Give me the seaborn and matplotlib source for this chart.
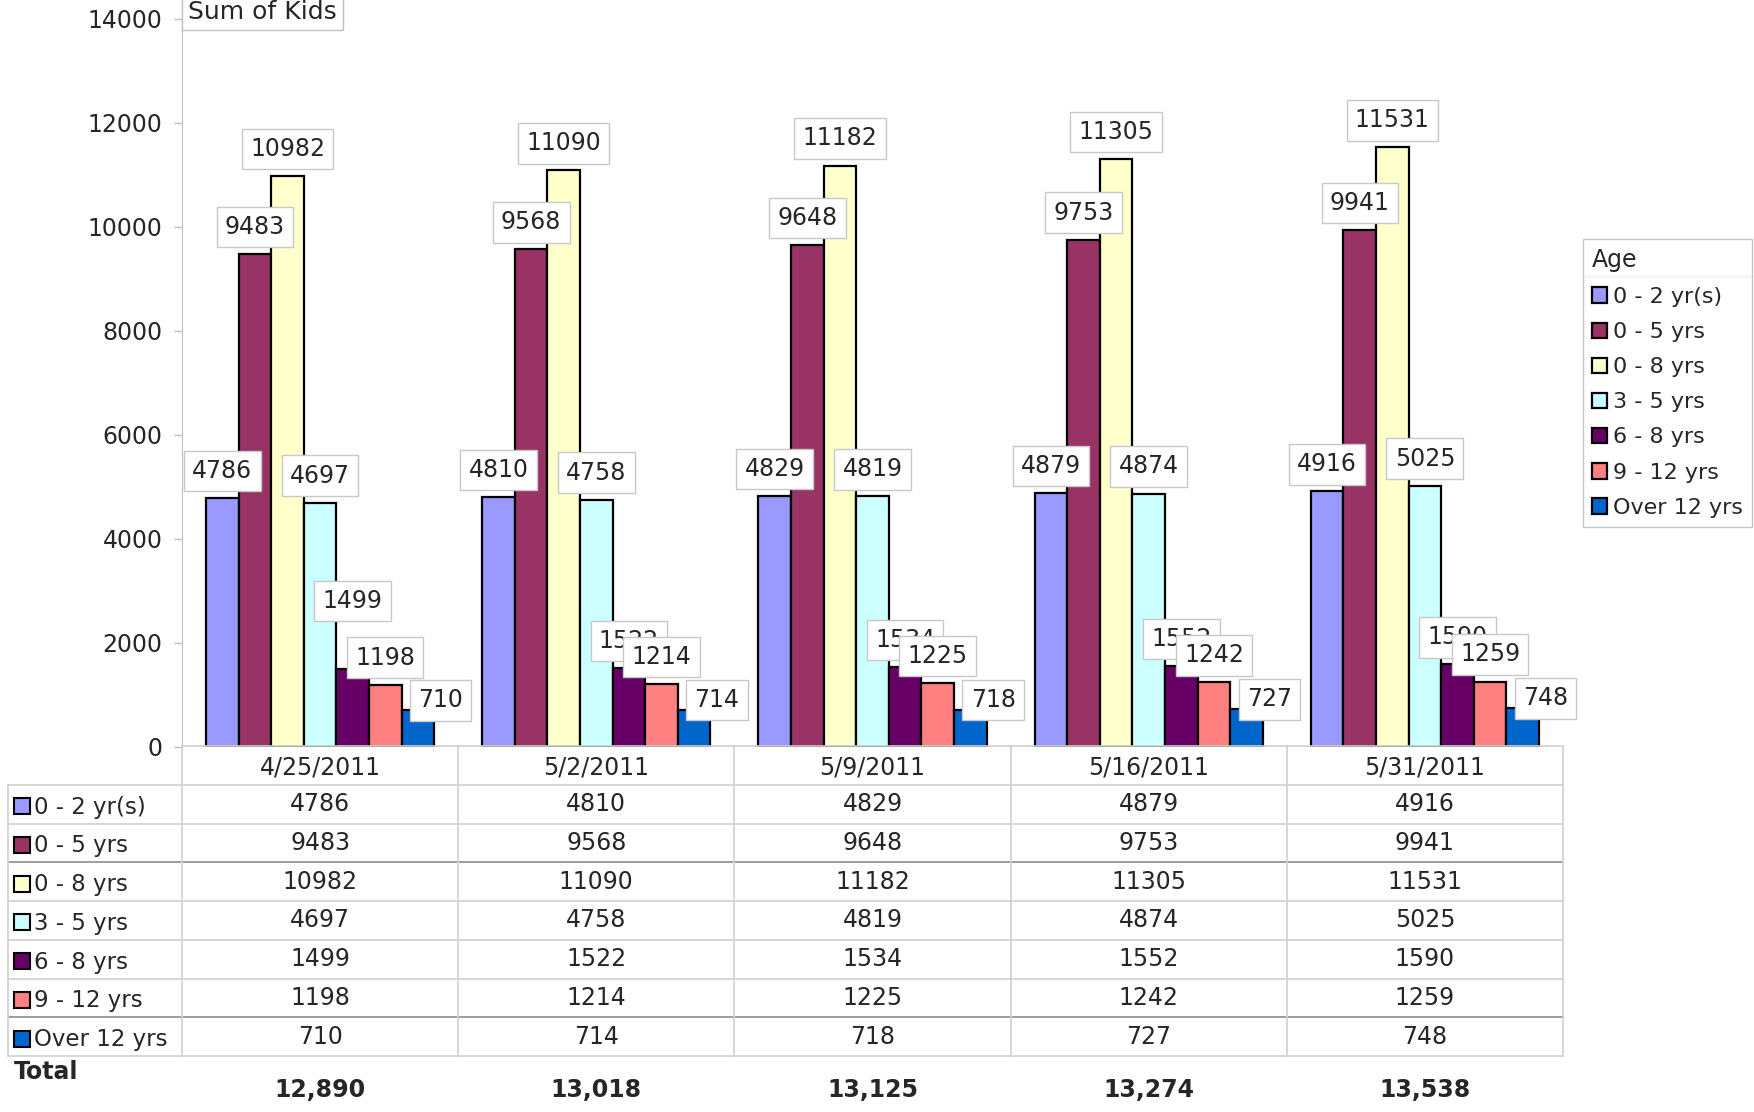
import pandas as pd
import matplotlib.pyplot as plt
from matplotlib.lines import Line2D
import seaborn as sns

# --- data ---
dates = ['4/25/2011', '5/2/2011', '5/9/2011', '5/16/2011', '5/31/2011']
age_groups = ['0 - 2 yr(s)', '0 - 5 yrs', '0 - 8 yrs', '3 - 5 yrs',
              '6 - 8 yrs', '9 - 12 yrs', 'Over 12 yrs']
age_0_2 = [4786, 4810, 4829, 4879, 4916]
age_0_5 = [9483, 9568, 9648, 9753, 9941]
age_0_8 = [10982, 11090, 11182, 11305, 11531]
age_3_5 = [4697, 4758, 4819, 4874, 5025]
age_6_8 = [1499, 1522, 1534, 1552, 1590]
age_9_12 = [1198, 1214, 1225, 1242, 1259]
age_over_12 = [710, 714, 718, 727, 748]
totals = [12890, 13018, 13125, 13274, 13538]
colors = ['#9999FF', '#993366', '#FFFFCC', '#CCFFFF', '#660066', '#FF8080', '#0066CC']

series = [age_0_2, age_0_5, age_0_8, age_3_5, age_6_8, age_9_12, age_over_12]
df = pd.DataFrame([
    {'Date': d, 'Age': a, 'Kids': v}
    for a, vals in zip(age_groups, series)
    for d, v in zip(dates, vals)
])

# --- layout (pixels of the 1754x1112 picture) ---
W, H = 1754, 1112
def fx(px):
    return px / W
def fy(px):
    return 1 - px / H

sns.set_style('white')
plt.rcParams['font.family'] = ['DejaVu Sans']
FS = 17

fig = plt.figure(figsize=(W / 100, H / 100), dpi=100)
ax = fig.add_axes([fx(182), fy(747), fx(1563) - fx(182), fy(19) - fy(747)])

sns.barplot(data=df, x='Date', y='Kids', hue='Age', hue_order=age_groups,
            palette=dict(zip(age_groups, colors)), width=0.826, saturation=1,
            edgecolor='black', linewidth=1.6, ax=ax)

ax.set_xlim(-0.5, 4.5)
ax.set_ylim(0, 14000)
ax.set_yticks(range(0, 14001, 2000))
ax.set_xticks([])
ax.set_xlabel('')
ax.set_ylabel('')
for s in ['top', 'right', 'bottom']:
    ax.spines[s].set_visible(False)
ax.spines['left'].set_color('#c0c0c0')
ax.tick_params(axis='y', left=True, length=6, width=1, color='#c0c0c0',
               labelsize=FS, pad=8)

# value labels in white boxes above the bars
nudges = {('6 - 8 yrs', 0): (0, 49)}
for name, cont in zip(age_groups, ax.containers):
    for i, bar in enumerate(cont):
        off = (16.5, 7) if name == 'Over 12 yrs' else (0, 19.5)
        off = nudges.get((name, i), off)
        ax.annotate(f'{bar.get_height():.0f}',
                    (bar.get_x() + bar.get_width() / 2, bar.get_height()),
                    xytext=off, textcoords='offset points',
                    ha='center', va='center', fontsize=FS,
                    bbox=dict(boxstyle='square,pad=0.35', fc='white',
                              ec='#c8c8c8', lw=1))

# legend
handles, labels = ax.get_legend_handles_labels()
ax.get_legend().remove()
leg = fig.legend(handles, labels, title='Age', loc='upper left',
                 bbox_to_anchor=(fx(1583), fy(239)), frameon=True,
                 fancybox=False, edgecolor='#b8b8b8', fontsize=FS - 1,
                 title_fontsize=FS, alignment='left', handlelength=0.7,
                 handleheight=0.7, handletextpad=0.25, labelspacing=0.68,
                 borderpad=0.4, borderaxespad=0)
leg.get_frame().set_linewidth(1)

# "Sum of Kids" field button at the top
fig.text(fx(188), fy(19), 'Sum of Kids', ha='left', va='baseline', fontsize=FS + 1,
         bbox=dict(boxstyle='square,pad=0.25', fc='white', ec='#c0c0c0'))

# --- data table under the chart ---
col_w = (1563 - 182) / 5
hdr = (182 - 7.5) / col_w
x0 = -0.5 - hdr
row_h = 38.75
tax = fig.add_axes([fx(7.5), 0, fx(1563) - fx(7.5), fy(746)])
tax.set_xlim(x0, 4.5)
tax.set_ylim(fy(746) * H / row_h, 0)
tax.axis('off')

light, dark = '#d0d0d0', '#8c8c8c'
tax.plot([-0.5, 4.5], [0, 0], color=light, lw=1.2, clip_on=False)
for r in range(1, 9):
    c = dark if r in (3, 7) else light
    tax.plot([x0, 4.5], [r, r], color=c, lw=1.2, clip_on=False)
tax.plot([x0, x0], [1, 8], color=light, lw=1.2, clip_on=False)
for k in range(6):
    tax.plot([k - 0.5, k - 0.5], [0, 8], color=light, lw=1.2, clip_on=False)

for i, d in enumerate(dates):
    tax.text(i, 0.55, d, ha='center', va='center', fontsize=FS)

sw_x = x0 + 14 / col_w
tx_x = x0 + 27 / col_w
for r, (name, vals, c) in enumerate(zip(age_groups, series, colors)):
    y = r + 1.5
    tax.plot(sw_x, y + 0.05, marker='s', ms=11, mfc=c, mec='black', mew=1.5,
             clip_on=False)
    tax.text(tx_x, y + 0.08, name, ha='left', va='center', fontsize=FS - 0.5)
    for i, v in enumerate(vals):
        tax.text(i, y, f'{v}', ha='center', va='center', fontsize=FS)

tax.text(x0 + 6 / col_w, 8.42, 'Total', ha='left', va='center',
         fontsize=FS, fontweight='bold')
for i, t in enumerate(totals):
    tax.text(i, 8.88, f'{t:,}', ha='center', va='center',
             fontsize=FS, fontweight='bold')

# separator line under the legend title
fig.canvas.draw()
tb = leg.get_title().get_window_extent()
fb = leg.get_frame().get_window_extent()
yl = tb.y0 - 4
fig.add_artist(Line2D([fb.x0 / W, fb.x1 / W], [yl / H, yl / H],
                      transform=fig.transFigure, color='#c0c0c0', lw=1))

fig.savefig('out.png', dpi=100)
